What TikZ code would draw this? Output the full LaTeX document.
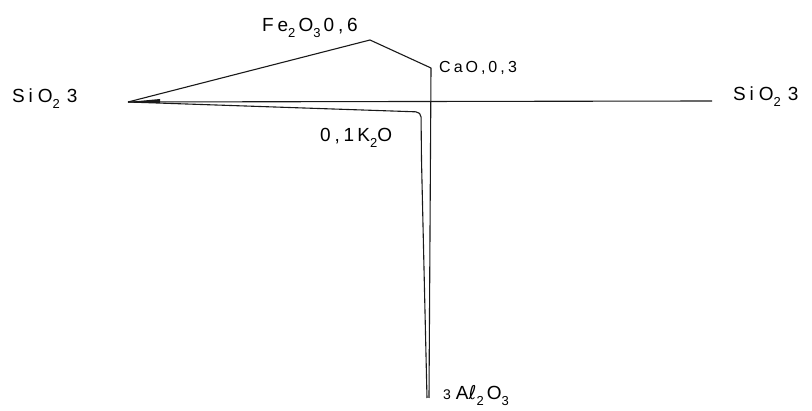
\documentclass[tikz,border=0pt]{standalone}
\usepackage{fontspec}
\newfontfamily\lblfont[LetterSpace=20]{Liberation Sans}
\newfontfamily\ellfont{DejaVu Sans}
\newcommand\sbs[1]{\raisebox{-0.5ex}{\fontsize{13}{13}\selectfont #1}}
\begin{document}
\begin{tikzpicture}[x=1pt,y=-1pt,
  lbl/.style={anchor=base west,inner sep=0pt,font=\lblfont\fontsize{19}{19}\selectfont},
  lbls/.style={anchor=base west,inner sep=0pt,font=\lblfont\fontsize{16}{16}\selectfont},
  ln/.style={draw=black!90,line width=1.1pt,line join=round}]
\useasboundingbox (0,0) rectangle (812,411);
% key points
\coordinate (apex) at (128,102);
\coordinate (rend) at (712,101);
\coordinate (fe) at (370,40);
\coordinate (ca) at (431,68);
\coordinate (cab) at (429,398);
\coordinate (kc) at (421,112);
\coordinate (kb) at (427,398);
% lines
\draw[ln] (apex) -- (rend);
\draw[ln] (apex) -- (fe) -- (ca) -- (cab);
\draw[ln,rounded corners=5pt] (apex) -- (kc) -- (421.5,160) -- (426,355) -- (kb);
\fill[black!90] (apex) -- (160,99) -- (160,103) -- cycle;
% labels
\node[lbl] (siL) at (12,103) {Si\hspace{5pt}O\sbs{2}\hspace{7pt}3};
\node[lbl] (siR) at (733,101) {Si\hspace{5pt}O\sbs{2}\hspace{7pt}3};
\node[lbl] (feL) at (262,32) {Fe\sbs{2}\,O\sbs{3}\,0,6};
\node[lbls] (caL) at (439,73) {Ca\,O,\,0,3};
\node[lbl] (kL) at (320,142) {0,1\,K\sbs{2}O};
\node[lbl] (alL) at (443,400) {\fontsize{14}{14}\selectfont 3\hspace{5pt}\fontsize{19}{19}\selectfont A{\ellfont ℓ}\sbs{2}\,O\sbs{3}};
\end{tikzpicture}
\end{document}
